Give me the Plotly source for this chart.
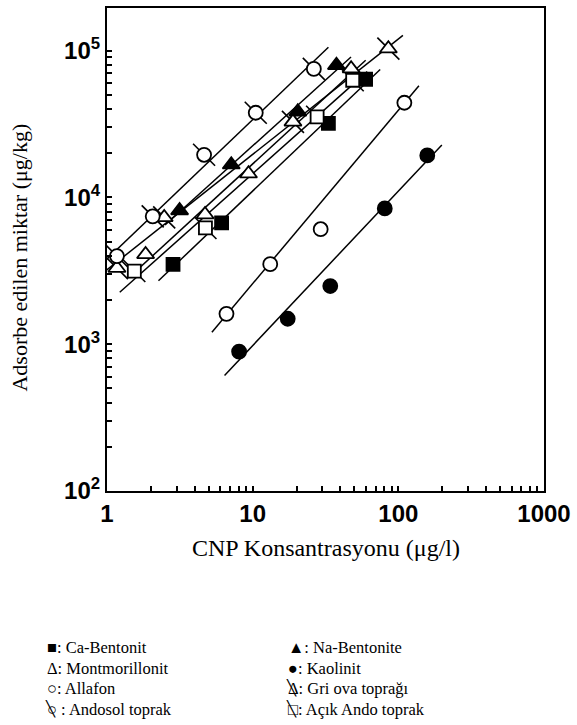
import numpy as np
import plotly.graph_objects as go

# ---------------- data ----------------
ca_bentonit_x = [2.84, 6.12, 33.1, 59.6]
ca_bentonit_y = [3500, 6700, 31900, 63800]

na_bentonite_x = [3.15, 7.13, 20.4, 37.6]
na_bentonite_y = [8130, 16700, 38300, 79400]

montmorillonit_x = [1.84, 4.71, 9.36, 47.4]
montmorillonit_y = [4090, 7640, 14500, 75300]

kaolinit_x = [8.07, 17.4, 34.1, 80.7, 158]
kaolinit_y = [890, 1490, 2490, 8410, 19300]
kaolinit_fit = [1, 1, 0, 1, 1]

allafon_x = [6.61, 13.2, 29.3, 110]
allafon_y = [1610, 3510, 6070, 44100]
allafon_fit = [1, 1, 0, 1]

gri_ova_x = [1.17, 2.47, 18.9, 85.4]
gri_ova_y = [3300, 7310, 32700, 103000]

andosol_x = [1.17, 2.06, 4.64, 10.5, 26.3]
andosol_y = [3980, 7430, 19500, 37700, 75000]

acik_ando_x = [1.54, 4.74, 27.7, 48.6]
acik_ando_y = [3150, 6190, 35400, 62800]

x_tick_values = [1, 10, 100, 1000]
x_tick_labels = ["1", "10", "100", "1000"]
y_tick_values = [100, 1000, 10000, 100000]
y_tick_labels = ["10<sup>2</sup>", "10<sup>3</sup>", "10<sup>4</sup>", "10<sup>5</sup>"]

legend_left = ["■: Ca-Bentonit", "Δ: Montmorillonit", "○: Allafon", "○ : Andosol toprak"]
legend_right = ["▲: Na-Bentonite", "●: Kaolinit", "Δ: Gri ova toprağı", "□: Açık Ando toprak"]
legend_left_crossed = [False, False, False, True]
legend_right_crossed = [False, False, True, True]

# ---------------- series definitions ----------------
series = [
    dict(name="Ca-Bentonit", x=ca_bentonit_x, y=ca_bentonit_y, sym="square", fill="black", size=13, slash=False),
    dict(name="Na-Bentonite", x=na_bentonite_x, y=na_bentonite_y, sym="triangle-up", fill="black", size=15, slash=False),
    dict(name="Montmorillonit", x=montmorillonit_x, y=montmorillonit_y, sym="triangle-up", fill="white", size=15, slash=False),
    dict(name="Kaolinit", x=kaolinit_x, y=kaolinit_y, sym="circle", fill="black", size=14, slash=False, fit=kaolinit_fit),
    dict(name="Allafon", x=allafon_x, y=allafon_y, sym="circle", fill="white", size=14, slash=False, fit=allafon_fit),
    dict(name="Gri ova toprağı", x=gri_ova_x, y=gri_ova_y, sym="triangle-up", fill="white", size=15, slash=True),
    dict(name="Andosol toprak", x=andosol_x, y=andosol_y, sym="circle", fill="white", size=14, slash=True),
    dict(name="Açık Ando toprak", x=acik_ando_x, y=acik_ando_y, sym="square", fill="white", size=13, slash=True),
]

fig = go.Figure()
EXT = 0.1  # decades the fitted line runs past the outer points

# fitted lines (log-log least squares)
for s in series:
    lx = np.log10(np.array(s["x"], dtype=float))
    ly = np.log10(np.array(s["y"], dtype=float))
    m = np.array(s.get("fit", [1] * len(lx)), dtype=bool)
    k, b = np.polyfit(lx[m], ly[m], 1)
    xl = np.array([lx.min() - EXT, lx.max() + EXT])
    fig.add_trace(go.Scatter(x=10 ** xl, y=10 ** (k * xl + b), mode="lines",
                             line=dict(color="black", width=1.5),
                             showlegend=False, hoverinfo="skip"))

# slashes beneath crossed markers
for s in series:
    if s["slash"]:
        fig.add_trace(go.Scatter(x=s["x"], y=s["y"], mode="markers",
                                 marker=dict(symbol="line-nw", size=22,
                                             line=dict(color="black", width=1.6)),
                                 showlegend=False, cliponaxis=False, hoverinfo="skip"))

# markers
for s in series:
    fig.add_trace(go.Scatter(x=s["x"], y=s["y"], mode="markers", name=s["name"],
                             marker=dict(symbol=s["sym"], size=s["size"], color=s["fill"],
                                         line=dict(color="black", width=1.8)),
                             showlegend=False, cliponaxis=False))

# minor ticks at 2..9 x 10^n
x_minor = [m * 10 ** d for d in range(0, 3) for m in range(2, 10)]
y_minor = [m * 10 ** d for d in range(2, 6) for m in range(2, 10) if m * 10 ** d < 10 ** 5.29]

axis_common = dict(type="log", showline=True, linewidth=2.2, linecolor="black", mirror=True,
                   ticks="inside", ticklen=5, tickwidth=1.5, tickcolor="black",
                   showgrid=False, zeroline=False, ticklabeloverflow="allow",
                   tickfont=dict(family="Liberation Sans, Arial", size=24, color="black", weight="bold"))

fig.update_xaxes(range=[0, 3], tickmode="array", tickvals=x_tick_values, ticktext=x_tick_labels,
                 minor=dict(tickmode="array", tickvals=x_minor, ticks="inside", ticklen=5,
                            tickwidth=1.5, tickcolor="black", showgrid=False),
                 **axis_common)
fig.update_yaxes(range=[2, 5.29], tickmode="array", tickvals=y_tick_values, ticktext=y_tick_labels,
                 minor=dict(tickmode="array", tickvals=y_minor, ticks="inside", ticklen=5,
                            tickwidth=1.5, tickcolor="black", showgrid=False),
                 **axis_common)

# geometry helpers (pixel -> paper)
L, R, T, B, W, H = 107, 20, 6, 234, 577, 725
pw, ph = W - L - R, H - T - B
def px(x):
    return (x - L) / pw
def py(y):
    return (H - B - y) / ph

serif = "Liberation Serif, Times New Roman, serif"
ann = []
ann.append(dict(text="CNP Konsantrasyonu (μg/l)", x=0.5, y=py(548), xref="paper", yref="paper",
                showarrow=False, xanchor="center", yanchor="middle",
                font=dict(family=serif, size=24, color="black")))
ann.append(dict(text="Adsorbe edilen miktar (μg/kg)", x=px(17), y=py(257), xref="paper", yref="paper",
                showarrow=False, xanchor="center", yanchor="middle", textangle=-90,
                font=dict(family=serif, size=22, color="black")))

rows = [648, 669, 689, 710]
for col_x, labels, crossed in [(43, legend_left, legend_left_crossed), (291, legend_right, legend_right_crossed)]:
    for r, lab, cr in zip(rows, labels, crossed):
        ann.append(dict(text=lab, x=px(col_x), y=py(r), xref="paper", yref="paper",
                        showarrow=False, xanchor="left", yanchor="middle",
                        font=dict(family=serif, size=16.5, color="black")))
        if cr:
            ann.append(dict(text="╲", x=px(col_x + 6), y=py(r), xref="paper", yref="paper",
                            showarrow=False, xanchor="center", yanchor="middle",
                            font=dict(family="DejaVu Sans", size=15, color="black")))

fig.update_layout(width=W, height=H, margin=dict(l=L, r=R, t=T, b=B, pad=0),
                  paper_bgcolor="white", plot_bgcolor="white", showlegend=False,
                  annotations=ann)

fig.write_html("out.html", config={"displayModeBar": False},
               post_script="document.body.style.margin='0';")
